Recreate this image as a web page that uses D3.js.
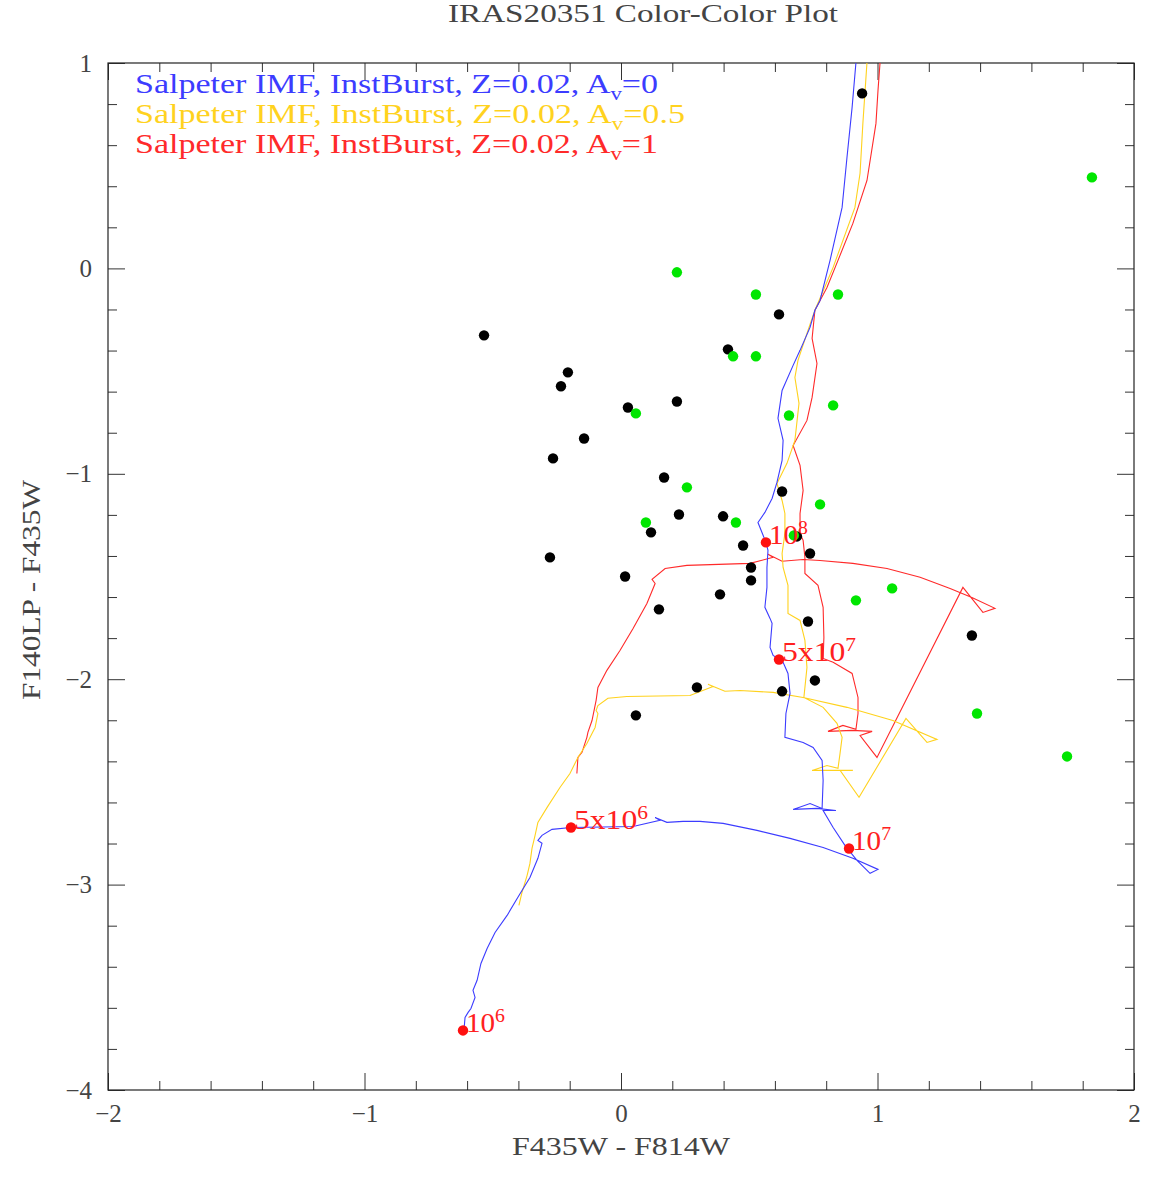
<!DOCTYPE html>
<html>
<head>
<meta charset="utf-8">
<script src="https://cdn.jsdelivr.net/npm/d3@7"></script>
<style>
  body { margin: 0; background: #fff; }
  svg text { font-family: "Liberation Serif", "DejaVu Serif", serif; }
</style>
</head>
<body>
<div id="chart"></div>
<script>
'use strict';

// observed sources, [F435W-F814W, F140LP-F435W]
var blackPts = [
  [0.940, 0.852], [0.616, -0.224], [-0.534, -0.326], [0.417, -0.394], [-0.207, -0.506],
  [-0.234, -0.574], [0.027, -0.677], [0.218, -0.648], [-0.144, -0.828], [-0.265, -0.925],
  [0.168, -1.018], [0.628, -1.086], [0.398, -1.207], [0.226, -1.198], [0.117, -1.285],
  [0.686, -1.305], [0.476, -1.349], [0.737, -1.388], [-0.277, -1.407], [0.507, -1.456],
  [0.507, -1.519], [0.016, -1.500], [0.386, -1.587], [0.148, -1.660], [0.729, -1.719],
  [1.368, -1.787], [0.756, -2.006], [0.296, -2.040], [0.628, -2.059], [0.058, -2.176]
];

var greenPts = [
  [1.836, 0.443], [0.218, -0.019], [0.526, -0.127], [0.846, -0.127], [0.437, -0.428],
  [0.526, -0.428], [0.058, -0.706], [0.655, -0.716], [0.827, -0.667], [0.257, -1.066],
  [0.776, -1.149], [0.097, -1.237], [0.448, -1.237], [0.674, -1.300], [1.057, -1.558],
  [0.916, -1.616], [1.388, -2.167], [1.739, -2.376]
];

// Starburst99 tracks, young -> old
var trackAv0 = [
  [-0.612, -3.705], [-0.608, -3.647], [-0.596, -3.622], [-0.585, -3.603], [-0.569, -3.549],
  [-0.577, -3.515], [-0.561, -3.466], [-0.546, -3.384], [-0.522, -3.311], [-0.491, -3.233],
  [-0.444, -3.150], [-0.402, -3.062], [-0.355, -2.965], [-0.324, -2.872], [-0.308, -2.799],
  [-0.324, -2.785], [-0.308, -2.760], [-0.269, -2.731], [-0.195, -2.722], [0.047, -2.717],
  [0.152, -2.687], [0.133, -2.673], [0.179, -2.697], [0.242, -2.692], [0.308, -2.692],
  [0.398, -2.702], [0.530, -2.736], [0.659, -2.775], [0.788, -2.819], [0.904, -2.872],
  [1.002, -2.926], [0.971, -2.945], [0.920, -2.882], [0.873, -2.809], [0.827, -2.722],
  [0.788, -2.639], [0.838, -2.639], [0.764, -2.629], [0.671, -2.634], [0.737, -2.605],
  [0.784, -2.629], [0.788, -2.493], [0.784, -2.395], [0.749, -2.332], [0.710, -2.308],
  [0.639, -2.283], [0.643, -2.167], [0.659, -2.069], [0.651, -1.972], [0.632, -1.918],
  [0.612, -1.899], [0.593, -1.884], [0.581, -1.845], [0.589, -1.728], [0.581, -1.704],
  [0.561, -1.650], [0.569, -1.553], [0.569, -1.456], [0.573, -1.373], [0.565, -1.334],
  [0.534, -1.237], [0.561, -1.188], [0.589, -1.120], [0.608, -1.042], [0.628, -0.935],
  [0.632, -0.837], [0.612, -0.730], [0.628, -0.594], [0.671, -0.472], [0.698, -0.399],
  [0.737, -0.287], [0.756, -0.204], [0.776, -0.156], [0.815, 0.039], [0.862, 0.297],
  [0.881, 0.540], [0.901, 0.784], [0.916, 1.003], [0.924, 1.159]
];

var trackAv05 = [
  [-0.398, -3.101], [-0.386, -3.038], [-0.366, -2.955], [-0.355, -2.897], [-0.347, -2.824],
  [-0.335, -2.760], [-0.324, -2.697], [-0.288, -2.624], [-0.238, -2.527], [-0.199, -2.459],
  [-0.168, -2.381], [-0.133, -2.313], [-0.101, -2.235], [-0.090, -2.167], [-0.097, -2.152],
  [-0.090, -2.128], [-0.051, -2.093], [0.023, -2.084], [0.269, -2.079], [0.359, -2.035],
  [0.339, -2.025], [0.405, -2.059], [0.464, -2.055], [0.593, -2.064], [0.710, -2.089],
  [0.881, -2.137], [1.060, -2.201], [1.232, -2.293], [1.193, -2.308], [1.111, -2.191],
  [0.928, -2.575], [0.854, -2.444], [0.904, -2.444], [0.834, -2.444], [0.745, -2.444],
  [0.803, -2.420], [0.846, -2.434], [0.854, -2.361], [0.862, -2.283], [0.842, -2.215],
  [0.788, -2.137], [0.713, -2.089], [0.725, -1.943], [0.717, -1.811], [0.698, -1.714],
  [0.651, -1.680], [0.651, -1.543], [0.632, -1.456], [0.628, -1.388], [0.639, -1.290],
  [0.639, -1.193], [0.628, -1.130], [0.608, -1.047], [0.647, -0.949], [0.678, -0.837],
  [0.694, -0.657], [0.678, -0.531], [0.690, -0.448], [0.725, -0.316], [0.756, -0.204],
  [0.827, 0.005], [0.912, 0.297], [0.932, 0.463], [0.943, 0.706], [0.959, 1.003],
  [0.963, 1.110]
];

var trackAv1 = [
  [-0.172, -2.459], [-0.168, -2.381], [-0.152, -2.356], [-0.133, -2.283], [-0.129, -2.259],
  [-0.113, -2.201], [-0.097, -2.103], [-0.090, -2.040], [-0.055, -1.957], [-0.004, -1.860],
  [0.047, -1.753], [0.101, -1.631], [0.133, -1.534], [0.121, -1.514], [0.172, -1.461],
  [0.257, -1.446], [0.503, -1.436], [0.593, -1.407], [0.573, -1.392], [0.628, -1.426],
  [0.710, -1.417], [0.776, -1.422], [0.904, -1.436], [1.037, -1.461], [1.166, -1.504],
  [1.283, -1.558], [1.368, -1.602], [1.458, -1.655], [1.411, -1.675], [1.333, -1.553],
  [0.998, -2.381], [0.932, -2.274], [0.979, -2.254], [0.901, -2.249], [0.807, -2.254],
  [0.865, -2.225], [0.916, -2.244], [0.924, -2.167], [0.924, -2.089], [0.901, -1.972],
  [0.827, -1.918], [0.788, -1.899], [0.791, -1.797], [0.788, -1.650], [0.768, -1.543],
  [0.717, -1.485], [0.717, -1.407], [0.710, -1.324], [0.698, -1.290], [0.698, -1.193],
  [0.710, -1.081], [0.698, -0.959], [0.671, -0.862], [0.725, -0.740], [0.745, -0.628],
  [0.764, -0.463], [0.745, -0.341], [0.756, -0.204], [0.803, -0.093], [0.846, 0.039],
  [0.904, 0.219], [0.959, 0.428], [0.994, 0.706], [1.002, 0.867], [1.010, 1.003],
  [1.014, 1.110]
];

// age markers on the Av=0 track: [x, y, mantissa, exponent]
var ageMarks = [
  [-0.616, -3.710, '10', '6'],
  [-0.195, -2.722, '5x10', '6'],
  [0.889, -2.824, '10', '7'],
  [0.616, -1.904, '5x10', '7'],
  [0.565, -1.334, '10', '8']
];

var legendLabels = [
  ['Salpeter IMF, InstBurst, Z=0.02, A', 'v', '=0'],
  ['Salpeter IMF, InstBurst, Z=0.02, A', 'v', '=0.5'],
  ['Salpeter IMF, InstBurst, Z=0.02, A', 'v', '=1']
];

var xMajor = [-2, -1, 0, 1, 2];
var yMajor = [-4, -3, -2, -1, 0, 1];

var COLORS = { av0: '#3c3cff', av05: '#ffd21e', av1: '#ff2a2a', text: '#444' };

var svg = d3.select('#chart').append('svg')
    .attr('width', 1162)
    .attr('height', 1183);

var x = d3.scaleLinear().domain([-2, 2]).range([108, 1134]);
var y = d3.scaleLinear().domain([-4, 1]).range([1090, 63]);

// minor ticks every 0.2
var xMinor = d3.range(-10, 11).map(function (d) { return d / 5; })
  .filter(function (d) { return xMajor.indexOf(d) < 0; });
var yMinor = d3.range(-20, 6).map(function (d) { return d / 5; })
  .filter(function (d) { return yMajor.indexOf(d) < 0; });

function drawAxis(axis, tx, ty, labels) {
  var g = svg.append('g')
      .attr('transform', 'translate(' + tx + ',' + ty + ')')
      .call(axis);
  g.select('.domain').remove();
  g.selectAll('line').attr('stroke', '#333');
  g.selectAll('text')
    .attr('font-family', '"Liberation Serif", "DejaVu Serif", serif')
    .attr('font-size', 25)
    .attr('fill', COLORS.text);
  if (!labels) g.selectAll('text').remove();
  return g;
}

var fmt = d3.format('d');

drawAxis(d3.axisBottom(x).tickValues(xMajor).tickSize(-17).tickPadding(14).tickFormat(fmt), 0, 1090, true);
drawAxis(d3.axisBottom(x).tickValues(xMinor).tickSize(-9), 0, 1090, false);
drawAxis(d3.axisTop(x).tickValues(xMajor).tickSize(-17), 0, 63, false);
drawAxis(d3.axisTop(x).tickValues(xMinor).tickSize(-9), 0, 63, false);
drawAxis(d3.axisLeft(y).tickValues(yMajor).tickSize(-17).tickPadding(16).tickFormat(fmt), 108, 0, true);
drawAxis(d3.axisLeft(y).tickValues(yMinor).tickSize(-9), 108, 0, false);
drawAxis(d3.axisRight(y).tickValues(yMajor).tickSize(-17), 1134, 0, false);
drawAxis(d3.axisRight(y).tickValues(yMinor).tickSize(-9), 1134, 0, false);

// frame
svg.append('rect')
    .attr('x', x(-2)).attr('y', y(1))
    .attr('width', x(2) - x(-2)).attr('height', y(-4) - y(1))
    .attr('fill', 'none').attr('stroke', '#222').attr('stroke-width', 1.2);

svg.append('clipPath').attr('id', 'plotclip')
  .append('rect')
    .attr('x', x(-2)).attr('y', y(1))
    .attr('width', x(2) - x(-2)).attr('height', y(-4) - y(1));

// title and axis titles
svg.append('text')
    .attr('x', 448).attr('y', 22)
    .attr('font-size', 26).attr('fill', COLORS.text)
    .attr('textLength', 390).attr('lengthAdjust', 'spacingAndGlyphs')
    .text('IRAS20351 Color-Color Plot');

svg.append('text')
    .attr('x', 621).attr('y', 1155)
    .attr('text-anchor', 'middle')
    .attr('font-size', 26).attr('fill', COLORS.text)
    .attr('textLength', 218).attr('lengthAdjust', 'spacingAndGlyphs')
    .text('F435W - F814W');

svg.append('text')
    .attr('transform', 'translate(40,590) rotate(-90)')
    .attr('text-anchor', 'middle')
    .attr('font-size', 26).attr('fill', COLORS.text)
    .attr('textLength', 220).attr('lengthAdjust', 'spacingAndGlyphs')
    .text('F140LP - F435W');

// tracks
var line = d3.line()
    .x(function (d) { return x(d[0]); })
    .y(function (d) { return y(d[1]); });

var tracks = [
  { data: trackAv1, color: COLORS.av1 },
  { data: trackAv05, color: COLORS.av05 },
  { data: trackAv0, color: COLORS.av0 }
];

svg.append('g').attr('clip-path', 'url(#plotclip)')
  .selectAll('path')
  .data(tracks)
  .enter()
  .append('path')
    .attr('d', function (d) { return line(d.data); })
    .attr('fill', 'none')
    .attr('stroke', function (d) { return d.color; })
    .attr('stroke-width', 1.1);

// observed points
svg.append('g').selectAll('circle')
    .data(blackPts).enter().append('circle')
    .attr('cx', function (d) { return x(d[0]); })
    .attr('cy', function (d) { return y(d[1]); })
    .attr('r', 5.2)
    .attr('fill', '#000');

svg.append('g').selectAll('circle')
    .data(greenPts).enter().append('circle')
    .attr('cx', function (d) { return x(d[0]); })
    .attr('cy', function (d) { return y(d[1]); })
    .attr('r', 5.2)
    .attr('fill', '#00e600');

// age markers + labels
var ages = svg.append('g').selectAll('g')
    .data(ageMarks).enter().append('g');

ages.append('circle')
    .attr('cx', function (d) { return x(d[0]); })
    .attr('cy', function (d) { return y(d[1]); })
    .attr('r', 5.2)
    .attr('fill', '#ff1010');

var ageText = ages.append('text')
    .attr('x', function (d) { return x(d[0]) + 3; })
    .attr('y', function (d) { return y(d[1]) + 2; })
    .attr('font-size', 28)
    .attr('fill', '#ff2020')
    .attr('textLength', function (d) { return d[2].length > 2 ? 74 : 39; })
    .attr('lengthAdjust', 'spacingAndGlyphs');
ageText.append('tspan').text(function (d) { return d[2]; });
ageText.append('tspan')
    .attr('dy', -10).attr('font-size', 19)
    .text(function (d) { return d[3]; });

// legend
var legendColors = [COLORS.av0, COLORS.av05, COLORS.av1];
var legendLen = [523, 550, 523];

legendLabels.forEach(function (lab, i) {
  var t = svg.append('text')
      .attr('x', 135).attr('y', 93 + i * 30)
      .attr('font-size', 27)
      .attr('fill', legendColors[i])
      .attr('textLength', legendLen[i])
      .attr('lengthAdjust', 'spacingAndGlyphs');
  t.append('tspan').text(lab[0]);
  t.append('tspan').attr('dy', 7).attr('font-size', 18).text(lab[1]);
  t.append('tspan').attr('dy', -7).text(lab[2]);
});
</script>
</body>
</html>
